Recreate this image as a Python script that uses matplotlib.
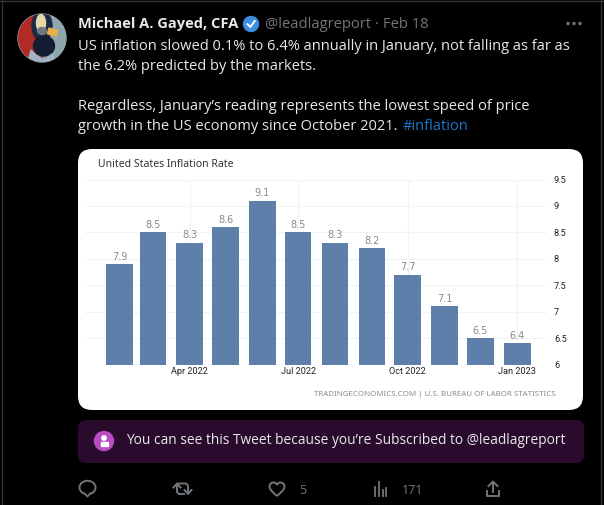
import matplotlib
matplotlib.use("Agg")
import matplotlib.pyplot as plt
import pandas as pd
from matplotlib.patches import FancyBboxPatch, Circle, Ellipse, Polygon, Wedge, Rectangle, PathPatch
from matplotlib.path import Path

# chart data
months = pd.date_range("2022-02-01", "2023-01-01", freq="MS")
inflation = [7.9, 8.5, 8.3, 8.6, 9.1, 8.5, 8.3, 8.2, 7.7, 7.1, 6.5, 6.4]
y_ticks = [6, 6.5, 7, 7.5, 8, 8.5, 9, 9.5]
y_tick_labels = ["6", "6.5", "7", "7.5", "8", "8.5", "9", "9.5"]
x_ticks = pd.to_datetime(["2022-04-01", "2022-07-01", "2022-10-01", "2023-01-01"])
x_tick_labels = ["Apr 2022", "Jul 2022", "Oct 2022", "Jan 2023"]

# tweet text
tweet_lines = [
    ("US inflation slowed 0.1% to 6.4% annually in January, not falling as far as", 46),
    ("the 6.2% predicted by the markets.", 66),
    ("Regardless, January\u2019s reading represents the lowest speed of price", 106),
    ("growth in the US economy since October 2021.", 126),
]

W, H = 604, 505
sans = ["Open Sans", "DejaVu Sans"]

fig = plt.figure(figsize=(W / 100, H / 100), dpi=100, facecolor="black")

# page layer in pixel coordinates
bg = fig.add_axes([0, 0, 1, 1])
bg.set_xlim(0, W)
bg.set_ylim(H, 0)
bg.axis("off")

# thin column borders
bg.plot([0, W], [0.5, 0.5], color="#2f3336", lw=1)
bg.plot([1.5, 1.5], [0, H], color="#2f3336", lw=1)
bg.plot([600.5, 600.5], [0, H], color="#2f3336", lw=1)

# avatar, rough shapes only
bg.add_patch(Circle((42, 38), 24, color="#8fa6ad"))
avatar_clip = Circle((42, 38), 24, transform=bg.transData)
shapes = [
    Wedge((42, 38), 24, 90, 250, color="#b02a26"),
    Ellipse((42, 26), 20, 30, color="#1c2b45"),
    Ellipse((41, 23), 9, 17, color="#e6d9a6"),
    Ellipse((42, 31), 9, 7, color="#6f7a7c"),
    Ellipse((44, 46), 21, 20, color="#141e33"),
    Polygon([[28, 62], [31, 50], [36, 55], [44, 60], [52, 54], [57, 62]], color="#9fb4c6"),
    Rectangle((49, 28), 9, 6, color="#e8b24a", angle=15),
]
for s in shapes:
    bg.add_patch(s)
    s.set_clip_path(avatar_clip)

# header
bg.text(78, 24, "Michael A. Gayed, CFA", color="#e7e9ea", fontsize=10.5, fontweight="bold",
        family=sans, va="center")
bg.add_patch(Circle((251, 24), 7.5, color="#3b8fe0"))
bg.plot([247.5, 250.3, 254.8], [24.2, 27, 21], color="white", lw=1.4)
bg.text(265, 24, "@leadlagreport \u00b7 Feb 18", color="#71767b", fontsize=10.6, family=sans, va="center")
for dot_x in [568, 574, 580]:
    bg.add_patch(Circle((dot_x, 23.5), 1.0, color="#71767b"))

# tweet body
for line, y in tweet_lines:
    bg.text(78, y, line, color="#e7e9ea", fontsize=10.5, family=sans, va="center")
bg.text(403, 126, "#inflation", color="#1d77c8", fontsize=10.5, family=sans, va="center")

# white card behind the chart
bg.add_patch(FancyBboxPatch((78, 149), 505, 261, boxstyle="round,pad=0,rounding_size=14",
                            fc="white", ec="none"))
bg.text(98, 164.5, "United States Inflation Rate", color="#333333", fontsize=7.5, va="center",
        family=["Noto Sans", "DejaVu Sans"])
bg.text(556, 394, "TRADINGECONOMICS.COM | U.S. BUREAU OF LABOR STATISTICS", color="#8c8c8c",
        fontsize=5.7, ha="right", va="center", family=["Noto Sans", "DejaVu Sans"])

# subscriber notice
bg.add_patch(FancyBboxPatch((78, 420), 506, 43, boxstyle="round,pad=0,rounding_size=8",
                            fc="#2a0b2d", ec="none"))
bg.add_patch(Circle((104, 441), 9.5, color="#b94cc4"))
bg.add_patch(Circle((104, 438), 2.2, color="white"))
bg.add_patch(Rectangle((100.5, 441.5), 7, 4.5, color="white"))
bg.text(126, 441, "You can see this Tweet because you\u2019re Subscribed to @leadlagreport",
        color="#e7e9ea", fontsize=9.93, family=sans, va="center")

# action row icons
icon = "#71767b"
bg.add_patch(Ellipse((87.5, 487.5), 16, 13.5, fc="none", ec=icon, lw=1.4))
bg.add_patch(Polygon([[84, 493], [87.5, 496.5], [91, 492.5]], closed=False, fc="black", ec=icon, lw=1.3))

bg.plot([177, 177, 179, 184], [484, 492, 494, 494], color=icon, lw=1.4)
bg.plot([173.5, 177, 180.5], [487.5, 483.5, 487.5], color=icon, lw=1.4)
bg.plot([179, 186, 188, 188], [483.5, 483.5, 485.5, 493.5], color=icon, lw=1.4)
bg.plot([184.5, 188, 191.5], [490, 494, 490], color=icon, lw=1.4)

heart = Path(
    [(277, 496), (271, 491), (269.5, 488.5), (269.5, 486.5), (269.5, 484), (271.5, 482.5), (273.5, 482.5),
     (275, 482.5), (276.3, 483.3), (277, 484.8), (277.7, 483.3), (279, 482.5), (280.5, 482.5),
     (282.5, 482.5), (284.5, 484), (284.5, 486.5), (284.5, 488.5), (283, 491), (277, 496)],
    [Path.MOVETO] + [Path.CURVE4] * 18,
)
bg.add_patch(PathPatch(heart, fc="none", ec=icon, lw=1.4))
bg.text(302.5, 490, "5", color=icon, fontsize=9, family=sans, va="center", ha="center")

for bx, top in [(374.5, 487), (378.5, 481.5), (382.5, 490), (386, 488)]:
    bg.plot([bx, bx], [top, 495.5], color=icon, lw=1.3)
bg.text(402, 490, "171", color=icon, fontsize=9, family=sans, va="center")

bg.plot([493, 493], [482, 492], color=icon, lw=1.4)
bg.plot([488.5, 493, 497.5], [486, 481.5, 486], color=icon, lw=1.4)
bg.plot([487, 487, 499, 499], [491, 495.5, 495.5, 491], color=icon, lw=1.4)

# the bar chart itself
left, right, top, bottom = 85, 547, 179.5, 364.5
ax = fig.add_axes([left / W, 1 - bottom / H, (right - left) / W, (bottom - top) / H])
ax.patch.set_alpha(0)
ax.bar(months, [v - 6 for v in inflation], bottom=6, width=22.4, color="#5f7fab", zorder=3)
for m, v in zip(months, inflation):
    ax.annotate(f"{v}", (m, v), xytext=(0, 2.5), textcoords="offset pixels", ha="center",
                va="bottom", fontsize=7, color="#8a8a8a", family="DejaVu Sans")

ax.set_xlim(pd.Timestamp("2022-01-03"), pd.Timestamp("2023-01-26"))
ax.set_ylim(6, 9.5)
ax.yaxis.tick_right()
ax.set_yticks(y_ticks, y_tick_labels)
ax.set_xticks(x_ticks, x_tick_labels)
ax.grid(True, color="#f3f3f3", lw=0.8, zorder=0)
ax.tick_params(length=0, labelsize=6.6, labelcolor="#222222", pad=2)
ax.tick_params(axis="y", pad=5)
for label in ax.get_xticklabels() + ax.get_yticklabels():
    label.set_family(["Roboto", "DejaVu Sans"])
for spine in ax.spines.values():
    spine.set_visible(False)

fig.savefig("out.png", dpi=100, facecolor="black")
